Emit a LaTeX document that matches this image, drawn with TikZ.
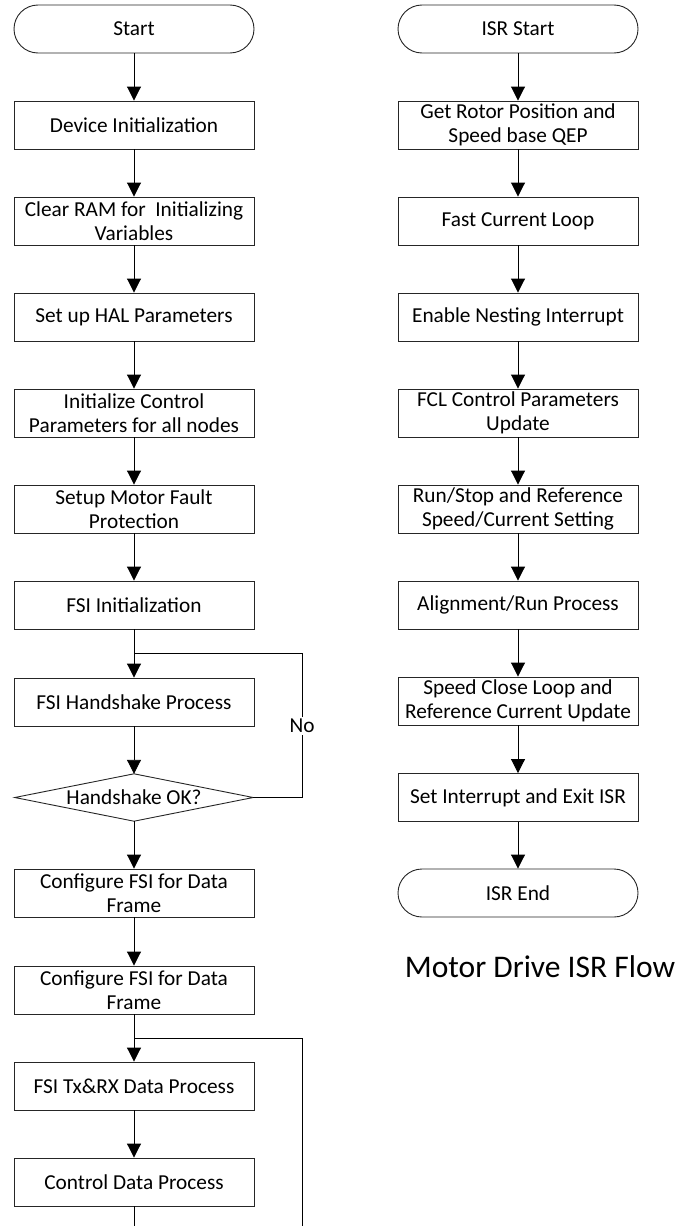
\documentclass[tikz,border=0pt]{standalone}
\usepackage{fontspec}
\setmainfont{Carlito}
\usetikzlibrary{arrows.meta}
\begin{document}
\begin{tikzpicture}[x=1pt,y=-1pt,
  every node/.style={font=\fontsize{21.3}{24}\selectfont, align=center, text=black},
  box/.style={draw=black!85, line width=0.9pt, minimum width=240pt, minimum height=48pt, inner sep=0pt, fill=white},
  term/.style={box, rounded corners=24pt},
  dec/.style={minimum width=238pt, minimum height=47pt, inner sep=0pt},
  flow/.style={line width=0.9pt, -{Triangle[width=14pt,length=14pt]}},
  plain/.style={line width=0.9pt}]
\useasboundingbox (0,0) rectangle (680,1226);
% left column
\node[term] (start) at (134,29) {Start};
\node[box] (dev) at (134,125) {Device Initialization};
\node[box] (ram) at (134,221) {Clear RAM for\ \ Initializing\\Variables};
\node[box] (hal) at (134,317) {Set up HAL Parameters};
\node[box] (ctl) at (134,413) {Initialize Control\\Parameters for all nodes};
\node[box] (mot) at (134,509) {Setup Motor Fault\\Protection};
\node[box] (fsi) at (134,605) {FSI Initialization};
\node[box] (hs) at (134,702) {FSI Handshake Process};
\node[dec] (ok) at (134,797.5) {Handshake OK?};
\draw[draw=black!85, line width=0.9pt] (ok.north) -- (ok.east) -- (ok.south) -- (ok.west) -- cycle;
\node[box] (cf1) at (134,893) {Configure FSI for Data\\Frame};
\node[box] (cf2) at (134,990) {Configure FSI for Data\\Frame};
\node[box] (txrx) at (134,1086) {FSI Tx\&RX Data Process};
\node[box] (cdp) at (134,1182) {Control Data Process};
\coordinate (m1) at (134,653);
\coordinate (r1) at (302,653);
\coordinate (m2) at (134,1038);
\coordinate (r2) at (302,1038);
\coordinate (bl) at (134,1226);
\coordinate (br) at (302,1226);
\draw[flow] (start) -- (dev);
\draw[flow] (dev) -- (ram);
\draw[flow] (ram) -- (hal);
\draw[flow] (hal) -- (ctl);
\draw[flow] (ctl) -- (mot);
\draw[flow] (mot) -- (fsi);
\draw[flow] (fsi) -- (hs);
\draw[flow] (hs) -- (ok.north);
\draw[plain] (ok.east) -| (r1) -- (m1);
\node[fill=white, inner sep=2pt] (no) at (302,726) {No};
\draw[flow] (ok.south) -- (cf1);
\draw[flow] (cf1) -- (cf2);
\draw[flow] (cf2) -- (txrx);
\draw[plain] (m2) -- (r2) -- (br);
\draw[flow] (txrx) -- (cdp);
\draw[plain] (cdp) -- (bl);
% right column
\node[term] (is) at (518,29) {ISR Start};
\node[box] (rot) at (518,125) {Get Rotor Position and\\Speed base QEP};
\node[box] (fcl) at (518,221) {Fast Current Loop};
\node[box] (nest) at (518,317) {Enable Nesting Interrupt};
\node[box] (fclp) at (518,413) {FCL Control Parameters\\Update};
\node[box] (run) at (518,509) {Run/Stop and Reference\\Speed/Current Setting};
\node[box] (align) at (518,605) {Alignment/Run Process};
\node[box] (spd) at (518,701) {Speed Close Loop and\\Reference Current Update};
\node[box] (seti) at (518,797.5) {Set Interrupt and Exit ISR};
\node[term] (ie) at (518,893) {ISR End};
\draw[flow] (is) -- (rot);
\draw[flow] (rot) -- (fcl);
\draw[flow] (fcl) -- (nest);
\draw[flow] (nest) -- (fclp);
\draw[flow] (fclp) -- (run);
\draw[flow] (run) -- (align);
\draw[flow] (align) -- (spd);
\draw[flow] (spd) -- (seti);
\draw[flow] (seti) -- (ie);
\node[font=\fontsize{31.5}{36}\selectfont] (title) at (540,967) {Motor Drive ISR Flow};
\end{tikzpicture}
\end{document}
